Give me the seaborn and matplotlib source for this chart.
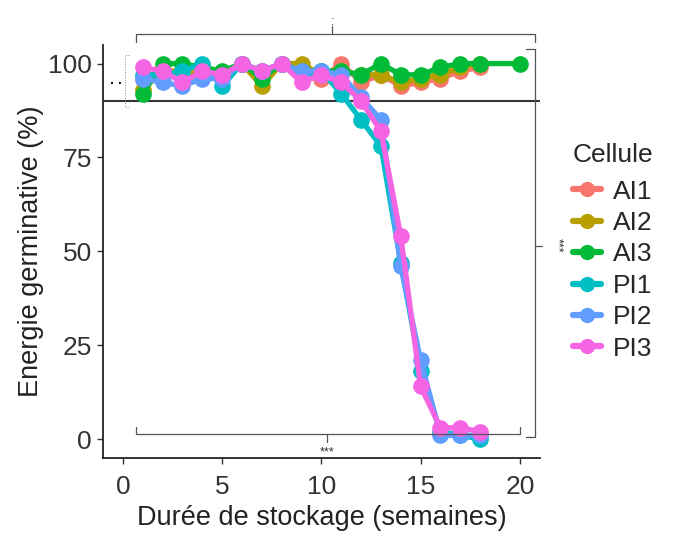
import numpy as np
import pandas as pd
import matplotlib
matplotlib.use("Agg")
import matplotlib.pyplot as plt
import seaborn as sns

weeks = list(range(1, 19))
weeks_ai3 = list(range(1, 19)) + [20]

AI1 = [96, 98, 97, 98, 97, 100, 97, 100, 97, 96, 100, 95, 97, 94, 95, 96, 98, 99]
AI2 = [93, 98, 98, 97, 97, 100, 94, 100, 100, 97, 98, 97, 97, 95, 96, 97, 99, 100]
AI3 = [92, 100, 100, 99, 98, 100, 96, 100, 98, 98, 98, 97, 100, 97, 97, 99, 100, 100, 100]
PI1 = [97, 97, 98, 100, 94, 100, 98, 100, 97, 98, 92, 85, 78, 47, 18, 2, 1, 0]
PI2 = [96, 95, 94, 96, 96, 100, 98, 100, 98, 98, 97, 91, 85, 46, 21, 1, 1, 1]
PI3 = [99, 98, 95, 98, 97, 100, 98, 100, 95, 97, 95, 90, 82, 54, 14, 3, 3, 2]

cells = ["AI1", "AI2", "AI3", "PI1", "PI2", "PI3"]
colors = ["#F8766D", "#B79F00", "#00BA38", "#00BFC4", "#619CFF", "#F564E3"]
x_ticks = [0, 5, 10, 15, 20]
y_ticks = [0, 25, 50, 75, 100]

series = {"AI1": (weeks, AI1), "AI2": (weeks, AI2), "AI3": (weeks_ai3, AI3),
          "PI1": (weeks, PI1), "PI2": (weeks, PI2), "PI3": (weeks, PI3)}
rows = []
for c in cells:
    xs, ys = series[c]
    for xv, yv in zip(xs, ys):
        rows.append({"Semaine": xv, "Energie": yv, "Cellule": c})
df = pd.DataFrame(rows)

sns.set_theme(style="white")
plt.rcParams["font.family"] = ["Liberation Sans", "DejaVu Sans"]

fig = plt.figure(figsize=(6.73, 5.33), dpi=100)
ax = fig.add_axes([0.153, 0.141, 0.649, 0.775])

sns.lineplot(data=df, x="Semaine", y="Energie", hue="Cellule", hue_order=cells,
             palette=colors, marker="o", markersize=12, markeredgewidth=0,
             linewidth=3.8, ax=ax, legend=True)

ax.axhline(90, color="#333333", linewidth=1.5, zorder=0)

ax.set_xlim(-1, 21)
ax.set_ylim(-5, 105)
ax.set_xticks(x_ticks)
ax.set_yticks(y_ticks)
ax.set_xlabel("Durée de stockage (semaines)", fontsize=19.5, color="#222222", labelpad=5)
ax.set_ylabel("Energie germinative (%)", fontsize=19.5, color="#222222", labelpad=3)
ax.tick_params(axis="x", pad=8)
ax.tick_params(axis="y", pad=4)
ax.tick_params(axis="both", labelsize=19, colors="#333333", length=4, width=1,
               direction="out", bottom=True, left=True)
for s in ["top", "right"]:
    ax.spines[s].set_visible(False)
for s in ["left", "bottom"]:
    ax.spines[s].set_color("#222222")
    ax.spines[s].set_linewidth(1.3)

# significance brackets (annotations)
bk = dict(color="#555555", linewidth=0.9, clip_on=False)
# top bracket
ax.plot([0.65, 0.65, 20.75, 20.75], [105.8, 108, 108, 105.8], **bk)
ax.plot([10.55, 10.55], [108, 110], **bk)
ax.text(10.55, 109.5, ":", ha="center", va="bottom", fontsize=9, color="#333333")
# bottom bracket
ax.plot([0.65, 0.65, 20.0, 20.0], [3.2, 1.3, 1.3, 3.2], **bk)
ax.plot([10.3, 10.3], [1.3, -0.8], **bk)
ax.text(10.3, -2.0, "***", ha="center", va="top", fontsize=9, color="#333333")
# right bracket
ax.plot([20.3, 20.75, 20.75, 20.3], [104.0, 104.0, 0.6, 0.6], **bk)
ax.plot([20.75, 21.1], [51.5, 51.5], **bk)
ax.text(21.9, 51.5, "***", ha="center", va="center", rotation=270, fontsize=9,
        color="#333333")
# left bracket
ax.plot([0.3, 0.1, 0.1, 0.3], [102.3, 102.3, 88.5, 88.5], color="#888888",
        linewidth=0.7, linestyle=":", clip_on=False)
ax.text(-0.05, 95.5, ". .", ha="right", va="center", fontsize=10, color="#111111",
        fontweight="bold")

leg = ax.legend(title="Cellule", loc="upper left", bbox_to_anchor=(1.04, 0.80),
                frameon=False, fontsize=19, title_fontsize=19, handlelength=1.05,
                labelspacing=0.28, handletextpad=0.45, alignment="left",
                borderaxespad=0.2)
leg._legend_box.sep = 9
for h in leg.legend_handles:
    h.set_linewidth(4.5)
    h.set_markersize(11)

fig.savefig("out.png", dpi=100)
